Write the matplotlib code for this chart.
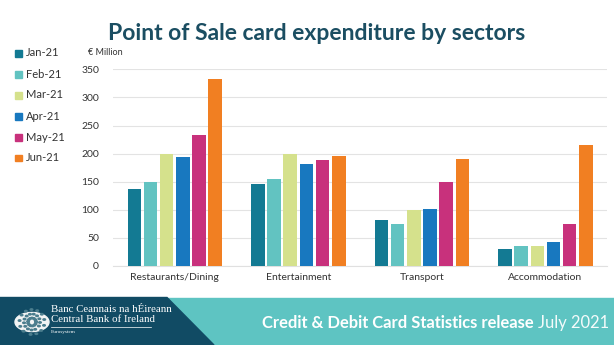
import numpy as np
import matplotlib
matplotlib.use("Agg")
import matplotlib.pyplot as plt
from matplotlib.patches import Polygon, Rectangle, Circle

plt.rcParams['font.family'] = ['Lato', 'DejaVu Sans']

categories = ["Restaurants/Dining", "Entertainment", "Transport", "Accommodation"]
months = ["Jan-21", "Feb-21", "Mar-21", "Apr-21", "May-21", "Jun-21"]
jan = [137, 146, 81, 30]
feb = [150, 155, 74, 36]
mar = [200, 200, 99, 36]
apr = [194, 182, 101, 42]
may = [234, 188, 150, 75]
jun = [332, 196, 191, 215]
series = [jan, feb, mar, apr, may, jun]
colors = ["#137a93", "#62c3c1", "#d5e18c", "#1878bf", "#c8317c", "#f17f22"]
yticks = [0, 50, 100, 150, 200, 250, 300, 350]

fig = plt.figure(figsize=(6.14, 3.45), dpi=100)
fig.patch.set_facecolor("white")

ax = fig.add_axes([0.184, 0.229, 0.805, 0.570])
x = np.arange(len(categories))
step = 0.131
width = 0.109
for i, (vals, c) in enumerate(zip(series, colors)):
    ax.bar(x + (i - 2.5) * step, vals, width=width, color=c, zorder=3)

ax.set_xlim(-0.5, len(categories) - 0.5)
ax.set_ylim(0, 350)
ax.set_yticks(yticks)
ax.set_yticklabels([str(v) for v in yticks], fontsize=7.5, color="#333333")
ax.set_xticks(x)
ax.set_xticklabels(categories, fontsize=7.5, color="#333333")
ax.tick_params(length=0, pad=5)
ax.tick_params(axis="y", pad=10)
ax.grid(axis="y", color="#e3e3e3", linewidth=0.8, zorder=0)
for s in ["top", "right", "left"]:
    ax.spines[s].set_visible(False)
ax.spines["bottom"].set_color("#e0e0e0")
ax.spines["bottom"].set_linewidth(0.8)

# Title and unit label
fig.text(0.516, 0.903, "Point of Sale card expenditure by sectors", ha="center",
         va="center", fontsize=16.5, fontweight="bold", color="#1b4e62")
fig.text(0.143, 0.847, "€ Million", ha="left", va="center", fontsize=6.5, color="#333333")

# Legend on the left
for i, (m, c) in enumerate(zip(months, colors)):
    yp = 1 - (53 + i * 21) / 345
    fig.patches.append(Rectangle((15 / 614, yp - 3.5 / 345), 7 / 614, 7 / 345,
                                 transform=fig.transFigure, color=c, zorder=5))
    fig.text(26 / 614, yp, m, ha="left", va="center", fontsize=8, color="#333333")

# Footer band
band_top = 1 - 297.5 / 345
fig.patches.append(Rectangle((0, 0), 1, band_top, transform=fig.transFigure,
                             color="#5ec4c2", zorder=1))
fig.patches.append(Polygon([(0, 0), (0, band_top), (167 / 614, band_top), (214 / 614, 0)],
                           closed=True, transform=fig.transFigure, color="#114b64", zorder=2))

# Logo emblem
cx, cy, r = 32, 322, 17
fig.patches.append(Circle((cx / 614, 1 - cy / 345), r / 614, transform=fig.transFigure,
                          color="#f2f4f4", zorder=3))
ang = np.linspace(0, 2 * np.pi, 40, endpoint=False)
for k, rr in enumerate([4, 8, 12.5]):
    for a in ang[k::3]:
        px = cx + rr * np.cos(a + k)
        py = cy + rr * np.sin(a + k)
        fig.patches.append(Circle((px / 614, 1 - py / 345), 1.3 / 614,
                                  transform=fig.transFigure, color="#4b7e8e", zorder=4))

serif = ["Liberation Serif", "DejaVu Serif"]
fig.text(51 / 614, 1 - 310 / 345, "Banc Ceannais na hÉireann", ha="left", va="center",
         fontsize=7.8, color="white", family=serif, zorder=5)
fig.text(51 / 614, 1 - 319 / 345, "Central Bank of Ireland", ha="left", va="center",
         fontsize=7.8, color="white", family=serif, zorder=5)
fig.lines.append(plt.Line2D([51 / 614, 151 / 614], [1 - 327 / 345, 1 - 327 / 345],
                            transform=fig.transFigure, color="white", linewidth=0.5, zorder=5))
fig.text(51 / 614, 1 - 332.5 / 345, "Eurosystem", ha="left", va="center",
         fontsize=3.8, color="white", family=serif, zorder=5)

t1 = fig.text(262 / 614, 1 - 323 / 345, "Credit & Debit Card Statistics release", ha="left",
              va="center", fontsize=11.9, fontweight="bold", color="white", zorder=5)
fig.canvas.draw()
bb = t1.get_window_extent()
fig.text((bb.x1 + 4) / 614, 1 - 323 / 345, "July 2021", ha="left", va="center",
         fontsize=11.9, fontweight="normal", color="#f4fbfb", zorder=5)

fig.savefig("out.png", dpi=100)
